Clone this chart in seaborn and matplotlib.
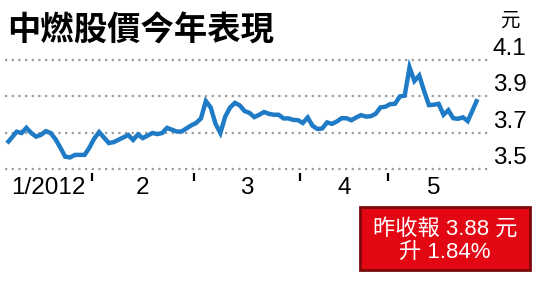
import numpy as np
import pandas as pd
import matplotlib
matplotlib.use("Agg")
import matplotlib.pyplot as plt
import seaborn as sns
from matplotlib.patches import Rectangle

# ---------------- data ----------------
title = "中燃股價今年表現"
unit = "元"
month_labels = ["1/2012", "2", "3", "4", "5"]
month_days = [18, 21, 22, 18, 19]          # trading days per month
y_ticks = [3.5, 3.7, 3.9, 4.1]
y_tick_labels = ["3.5", "3.7", "3.9", "4.1"]
note_lines = ["昨收報 3.88 元", "升 1.84%"]
prices = [
    3.644, 3.675, 3.707, 3.700, 3.728, 3.700, 3.680, 3.690, 3.710, 3.700,
    3.666, 3.620, 3.570, 3.566, 3.580, 3.580, 3.580, 3.620, 3.670, 3.705,
    3.675, 3.645, 3.650, 3.663, 3.676, 3.689, 3.662, 3.692, 3.672, 3.686,
    3.700, 3.694, 3.700, 3.728, 3.718, 3.708, 3.708, 3.725, 3.742, 3.755,
    3.780, 3.875, 3.840, 3.750, 3.700, 3.790, 3.840, 3.865, 3.851, 3.820,
    3.810, 3.787, 3.800, 3.815, 3.805, 3.800, 3.800, 3.780, 3.780, 3.772,
    3.770, 3.755, 3.785, 3.740, 3.722, 3.725, 3.758, 3.750, 3.763, 3.781,
    3.781, 3.770, 3.785, 3.798, 3.790, 3.792, 3.805, 3.840, 3.844, 3.858,
    3.860, 3.900, 3.905, 4.060, 3.985, 4.015, 3.930, 3.853, 3.855, 3.860,
    3.800, 3.825, 3.781, 3.778, 3.786, 3.765, 3.825, 3.885,
]

# ---------------- style ----------------
sns.set_theme(style="white")
plt.rcParams["font.family"] = ["Liberation Sans", "Noto Sans CJK TC", "DejaVu Sans"]

W, H = 537, 283
fig = plt.figure(figsize=(W / 100, H / 100), dpi=100)
fig.patch.set_facecolor("white")

ymin, ymax = 3.48, 4.12
px_per_unit = 182.5
y_bottom_px = 169.5 + (3.5 - ymin) * px_per_unit
y_top_px = 169.5 - (ymax - 3.5) * px_per_unit
ax = fig.add_axes([5 / W, (H - y_bottom_px) / H, 485 / W, (y_bottom_px - y_top_px) / H])
ax.set_facecolor("white")

df = pd.DataFrame({"day": np.arange(len(prices)), "price": prices})

# gridlines
for yv in y_ticks:
    ax.axhline(yv, color="#9a9a9a", lw=1.6, ls=(0, (1, 2.0)), zorder=1)

sns.lineplot(data=df, x="day", y="price", ax=ax, color="#1f7bc6", lw=3.2,
             zorder=3, solid_joinstyle="miter", solid_capstyle="butt")

ax.set_xlim(-0.41, 99.59)
ax.set_ylim(ymin, ymax)
for s in ax.spines.values():
    s.set_visible(False)
ax.set_xlabel("")
ax.set_ylabel("")

# x ticks: boundaries as marks, month centers as labels
bounds = np.cumsum(month_days)[:-1] - 0.5
starts = np.concatenate([[0], np.cumsum(month_days)[:-1]])
centers = starts + (np.array(month_days) - 1) / 2
ax.set_xticks(bounds)
ax.set_xticklabels([])
ax.tick_params(axis="x", which="major", length=6, width=1.6, color="black",
               direction="out", bottom=True)
ax.set_xticks(centers, minor=True)
ax.set_xticklabels(month_labels, minor=True)
ax.tick_params(axis="x", which="minor", length=0, pad=3, labelsize=17.5,
               labelcolor="black")

# y labels on right, above gridlines
ax.set_yticks([])
for yv, lab in zip(y_ticks, y_tick_labels):
    ax.annotate(lab, xy=(1.006, yv), xycoords=("axes fraction", "data"),
                xytext=(0, 8.0), textcoords="offset points",
                ha="left", va="center", fontsize=17.5, color="black",
                annotation_clip=False)

# title and unit
fig.text(7 / W, 1 - 31 / H, title, fontsize=24, fontweight="bold",
         family=["Noto Sans CJK TC"], ha="left", va="center", color="black")
fig.text(510 / W, 1 - 20 / H, unit, fontsize=14, family=["Noto Sans CJK TC"],
         ha="center", va="center", color="black")

# red note box
fig.patches.append(Rectangle((360 / W, 1 - 270 / H), 170 / W, 63 / H,
                             transform=fig.transFigure, facecolor="#e30613",
                             edgecolor="#7d0a0a", lw=2.0, zorder=5))
fig.text(445 / W, 1 - 229 / H, note_lines[0], fontsize=16, color="white",
         ha="center", va="center", zorder=6)
fig.text(445 / W, 1 - 252 / H, note_lines[1], fontsize=16, color="white",
         ha="center", va="center", zorder=6)

fig.savefig("out.png", dpi=100, facecolor="white")
